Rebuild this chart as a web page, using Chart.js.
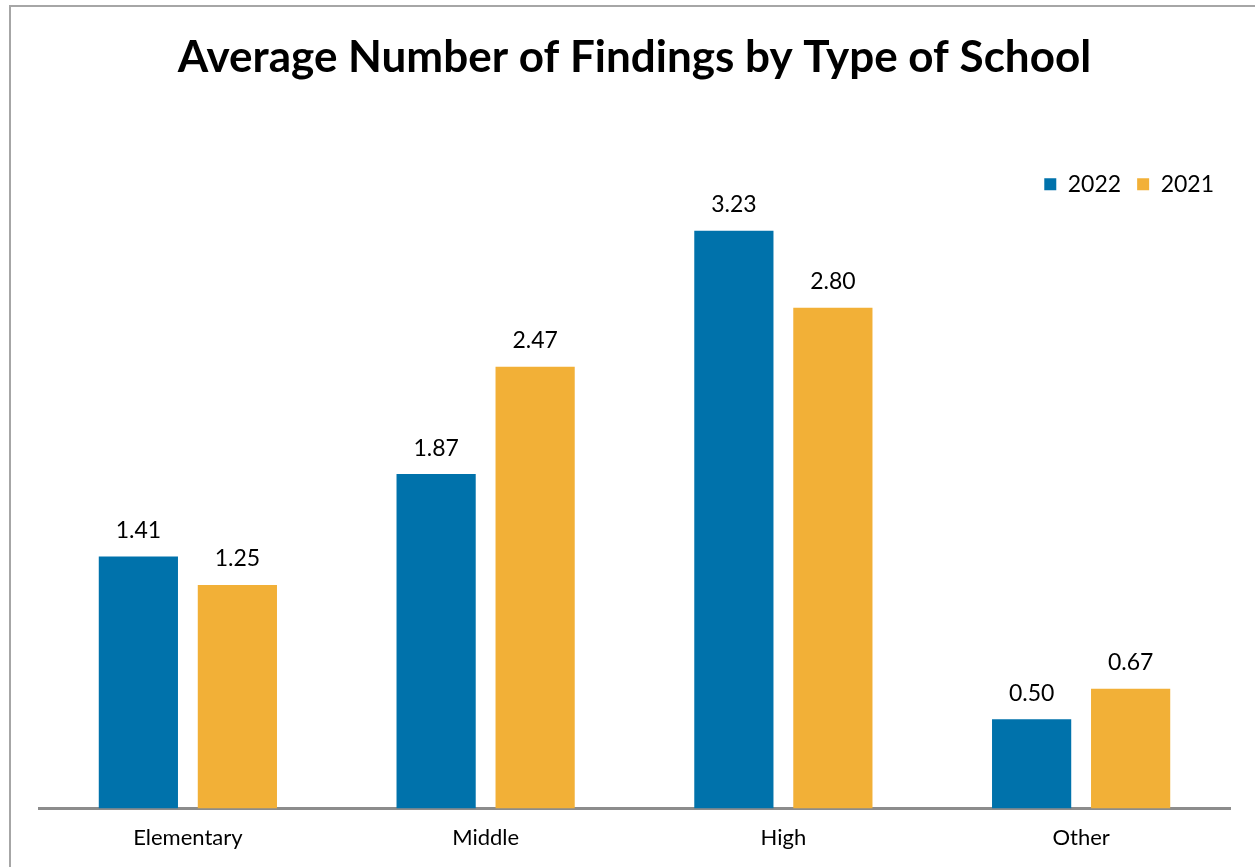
<!DOCTYPE html>
<html>
<head>
<meta charset="utf-8">
<script src="https://cdn.jsdelivr.net/npm/chart.js@4"></script>
<style>
  html, body { margin: 0; padding: 0; background: #fff; overflow: hidden; }
  #wrap { position: relative; width: 1255px; height: 867px; }
  #frame { position: absolute; left: 9px; top: 5px; width: 1300px; height: 900px; border: 2px solid #a6a6a6; box-sizing: border-box; pointer-events: none; }
</style>
</head>
<body>
<div id="wrap">
  <canvas id="findingsChart" width="1255" height="867"></canvas>
  <div id="frame"></div>
</div>
<script>
const categories = ['Elementary', 'Middle', 'High', 'Other'];
const values2022 = [1.41, 1.87, 3.23, 0.50];
const values2021 = [1.25, 2.47, 2.80, 0.67];

const FONT = 'Lato, "Open Sans", sans-serif';

// draws the value above each bar
const barValueLabels = {
    id: 'barValueLabels',
    afterDatasetsDraw(chart) {
        const ctx = chart.ctx;
        ctx.save();
        ctx.font = '23px ' + FONT;
        ctx.fillStyle = '#000';
        ctx.textAlign = 'center';
        ctx.textBaseline = 'middle';
        chart.data.datasets.forEach((ds, i) => {
            chart.getDatasetMeta(i).data.forEach((bar, j) => {
                ctx.fillText(ds.data[j].toFixed(2), bar.x, bar.y - 26);
            });
        });
        ctx.restore();
    }
};

new Chart(document.getElementById('findingsChart'), {
    type: 'bar',
    data: {
        labels: categories,
        datasets: [{
            label: '2022',
            data: values2022,
            backgroundColor: '#0072ab'
        }, {
            label: '2021',
            data: values2021,
            backgroundColor: '#f2b037'
        }]
    },
    options: {
        responsive: false,
        animation: false,
        events: [],
        layout: {
            padding: { left: 39, right: 25, top: 0, bottom: 0 }
        },
        datasets: {
            bar: {
                categoryPercentage: 0.665,
                barPercentage: 0.8
            }
        },
        scales: {
            x: {
                grid: { display: false, drawTicks: false },
                border: { display: true, color: '#8c8c8c', width: 3 },
                ticks: {
                    color: '#000',
                    padding: 16,
                    font: { family: FONT, size: 22 }
                }
            },
            y: {
                display: false,
                min: 0,
                max: 3.37
            }
        },
        plugins: {
            title: {
                display: true,
                text: 'Average Number of Findings by Type of School',
                color: '#000',
                font: { family: FONT, size: 44, weight: 'bold' },
                padding: { top: 31, bottom: 73 }
            },
            legend: {
                position: 'top',
                align: 'end',
                labels: {
                    color: '#000',
                    boxWidth: 12,
                    boxHeight: 12,
                    padding: 16,
                    font: { family: FONT, size: 23 }
                }
            },
            tooltip: { enabled: false }
        }
    },
    plugins: [barValueLabels]
});
</script>
</body>
</html>
